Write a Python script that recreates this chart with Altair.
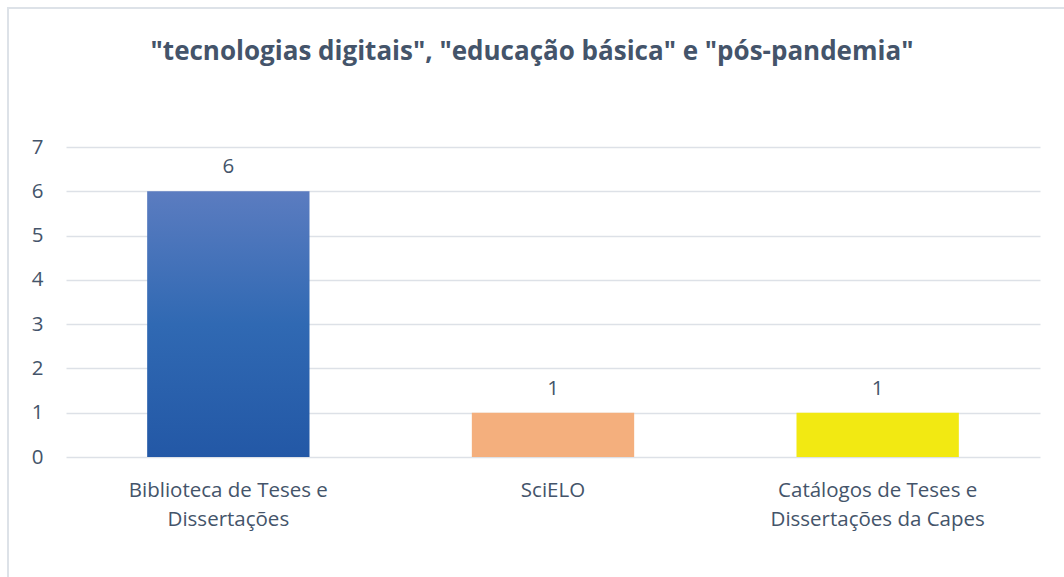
import altair as alt
import pandas as pd

categories = ["Biblioteca de Teses e\nDissertações", "SciELO", "Catálogos de Teses e\nDissertações da Capes"]
values = [6, 1, 1]
bar_colors = ["#2F66B1", "#F4AF7D", "#F2E912"]
title_text = '"tecnologias digitais", "educação básica" e "pós-pandemia"'

df = pd.DataFrame({"fonte": categories, "n": values, "cor": bar_colors})
df["grad"] = [True, False, False]

TXT = "#44546A"
FONT = "Open Sans"
FS = 20.5

x_enc = alt.X("fonte:N", sort=categories,
              scale=alt.Scale(paddingInner=0.5, paddingOuter=0.25),
              axis=alt.Axis(title=None, labelAngle=0, labelExpr="split(datum.label, '\\n')",
                            labelFontSize=FS, labelColor=TXT, labelFont=FONT, labelLimit=0,
                            labelLineHeight=29, labelPadding=33, labelBaseline="middle",
                            domain=False, ticks=False, grid=False))
y_enc = alt.Y("n:Q", scale=alt.Scale(domain=[0, 7]),
              axis=alt.Axis(title=None, values=list(range(0, 8)), labelFontSize=FS,
                            labelColor=TXT, labelFont=FONT, labelPadding=23,
                            domain=False, ticks=False, grid=True,
                            gridColor="#DDE1E7", gridWidth=1.5))

base = alt.Chart(df)

solid = base.transform_filter("!datum.grad").mark_bar().encode(
    x=x_enc, y=y_enc,
    color=alt.Color("cor:N", scale=None, legend=None))

grad = base.transform_filter("datum.grad").mark_bar(
    color=alt.Gradient(
        gradient="linear",
        stops=[alt.GradientStop(color="#5B7CC0", offset=0),
               alt.GradientStop(color="#3069B3", offset=0.5),
               alt.GradientStop(color="#2358A6", offset=1)],
        x1=0, x2=0, y1=0, y2=1)
).encode(x=x_enc, y=y_enc)

labels = base.mark_text(baseline="middle", dy=-24, fontSize=FS, color=TXT, font=FONT).encode(
    x=x_enc, y=y_enc, text="n:Q")

border = alt.Chart(pd.DataFrame({"k": [0]})).mark_rect(
    fill=None, stroke="#DDE2E8", strokeWidth=2
).encode(x=alt.value(-58), x2=alt.value(1040), y=alt.value(-139), y2=alt.value(480))

title = alt.Chart(pd.DataFrame({"t": [title_text]})).mark_text(
    fontSize=26, fontWeight="bold", color=TXT, font=FONT, baseline="middle", align="center"
).encode(x=alt.value(466), y=alt.value(-95), text="t:N")

chart = alt.layer(border, solid, grad, labels, title).properties(
    width=974, height=310,
    padding={"left": 66, "top": 147, "right": 24, "bottom": 120},
    autosize=alt.AutoSizeParams(type="none"),
).configure(background="white").configure_view(stroke=None, strokeWidth=0)

chart.save("out.html", embed_options={"renderer": "svg", "actions": False})
